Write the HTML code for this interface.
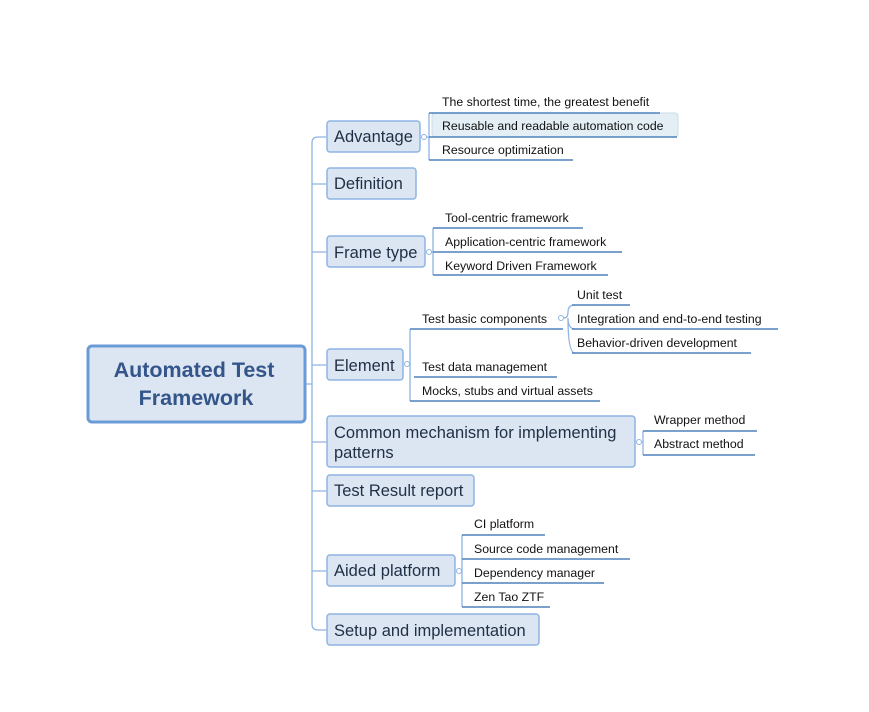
<!DOCTYPE html>
<html><head><meta charset="utf-8"><style>
html,body{margin:0;padding:0;background:#fff;}
svg{display:block;}
text{font-family:"Liberation Sans","DejaVu Sans",sans-serif;}
.b{fill:#dce6f2;stroke:#8eb4e3;stroke-width:1.5;}
.bt{font-size:16.5px;fill:#1f2f45;}
.ct{font-size:12.3px;fill:#111;}
.ln{fill:none;stroke:#8eb4e3;stroke-width:1.3;}
.ul{stroke:#4f81bd;stroke-width:1.5;}
.dot{fill:#fff;stroke:#8eb4e3;stroke-width:1;}
</style></head><body>
<svg width="869" height="712" viewBox="0 0 869 712" xmlns="http://www.w3.org/2000/svg">
<path class="ln" d="M306 384 H312 M326 137 H318 Q312 137 312 143 V624 Q312 630 318 630 H326"/>
<path class="ln" d="M312 184 H326 M312 252 H326 M312 365 H326 M312 442 H326 M312 491 H326 M312 571 H326"/>
<rect x="88" y="346" width="217" height="76" rx="4" fill="#dce6f2" stroke="#6a9bd8" stroke-width="3"/>
<text x="194" y="377" text-anchor="middle" font-size="21.5" font-weight="bold" fill="#34558a">Automated Test</text>
<text x="196" y="405" text-anchor="middle" font-size="21.5" font-weight="bold" fill="#34558a">Framework</text>
<rect class="b" x="327" y="121" width="93" height="31" rx="3"/><text class="bt" x="334" y="142">Advantage</text>
<rect class="b" x="327" y="168" width="89" height="31" rx="3"/><text class="bt" x="334" y="189">Definition</text>
<rect class="b" x="327" y="236" width="98" height="31" rx="3"/><text class="bt" x="334" y="258">Frame type</text>
<rect class="b" x="327" y="349" width="76" height="31" rx="3"/><text class="bt" x="334" y="371">Element</text>
<rect class="b" x="327" y="416" width="308" height="51" rx="3"/><text class="bt" x="334" y="438">Common mechanism for implementing</text><text class="bt" x="334" y="458">patterns</text>
<rect class="b" x="327" y="475" width="147" height="31" rx="3"/><text class="bt" x="334" y="496">Test Result report</text>
<rect class="b" x="327" y="555" width="128" height="31" rx="3"/><text class="bt" x="334" y="576">Aided platform</text>
<rect class="b" x="327" y="614" width="212" height="31" rx="3"/><text class="bt" x="334" y="636">Setup and implementation</text>

<rect x="432" y="113" width="246" height="24" rx="3" fill="#e4eef5" stroke="#c8dcea" stroke-width="1"/>
<path class="ln" d="M423 137 H429 M429 113 V160"/>
<line class="ul" x1="429" y1="113" x2="660" y2="113"/>
<line class="ul" x1="429" y1="137" x2="677" y2="137"/>
<line class="ul" x1="429" y1="160" x2="573" y2="160"/>
<circle class="dot" cx="424" cy="137" r="2.5"/>
<text class="ct" x="442" y="106">The shortest time, the greatest benefit</text>
<text class="ct" x="442" y="130">Reusable and readable automation code</text>
<text class="ct" x="442" y="154">Resource optimization</text>

<path class="ln" d="M428 252 H433 M433 228 V275"/>
<line class="ul" x1="433" y1="228" x2="583" y2="228"/>
<line class="ul" x1="433" y1="252" x2="622" y2="252"/>
<line class="ul" x1="433" y1="275" x2="608" y2="275"/>
<circle class="dot" cx="429" cy="252" r="2.5"/>
<text class="ct" x="445" y="222">Tool-centric framework</text>
<text class="ct" x="445" y="246">Application-centric framework</text>
<text class="ct" x="445" y="270">Keyword Driven Framework</text>

<path class="ln" d="M406 364 H410 M410 329 V401"/>
<line class="ul" x1="410" y1="329" x2="563" y2="329"/>
<line class="ul" x1="414" y1="377" x2="557" y2="377"/>
<line class="ul" x1="410" y1="401" x2="600" y2="401"/>
<circle class="dot" cx="407" cy="364" r="2.5"/>
<text class="ct" x="422" y="323">Test basic components</text>
<text class="ct" x="422" y="371">Test data management</text>
<text class="ct" x="422" y="395">Mocks, stubs and virtual assets</text>

<path class="ln" d="M564 318 Q568 318 568 312 Q568 305 575 305 M568 318 Q568 329 575 329 M568 318 Q568 353 575 353"/>
<line class="ul" x1="572" y1="305" x2="630" y2="305"/>
<line class="ul" x1="572" y1="329" x2="778" y2="329"/>
<line class="ul" x1="572" y1="353" x2="751" y2="353"/>
<circle class="dot" cx="561" cy="318" r="2.5"/>
<text class="ct" x="577" y="299">Unit test</text>
<text class="ct" x="577" y="323">Integration and end-to-end testing</text>
<text class="ct" x="577" y="347">Behavior-driven development</text>

<path class="ln" d="M638 442 H643 M643 431 V455"/>
<line class="ul" x1="643" y1="431" x2="757" y2="431"/>
<line class="ul" x1="643" y1="455" x2="755" y2="455"/>
<circle class="dot" cx="639" cy="442" r="2.5"/>
<text class="ct" x="654" y="424">Wrapper method</text>
<text class="ct" x="654" y="448">Abstract method</text>

<path class="ln" d="M458 571 H462 M462 535 V607"/>
<line class="ul" x1="462" y1="535" x2="545" y2="535"/>
<line class="ul" x1="462" y1="559" x2="630" y2="559"/>
<line class="ul" x1="462" y1="583" x2="604" y2="583"/>
<line class="ul" x1="462" y1="607" x2="550" y2="607"/>
<circle class="dot" cx="459" cy="571" r="2.5"/>
<text class="ct" x="474" y="528">CI platform</text>
<text class="ct" x="474" y="553">Source code management</text>
<text class="ct" x="474" y="577">Dependency manager</text>
<text class="ct" x="474" y="601">Zen Tao ZTF</text>
</svg>
</body></html>
